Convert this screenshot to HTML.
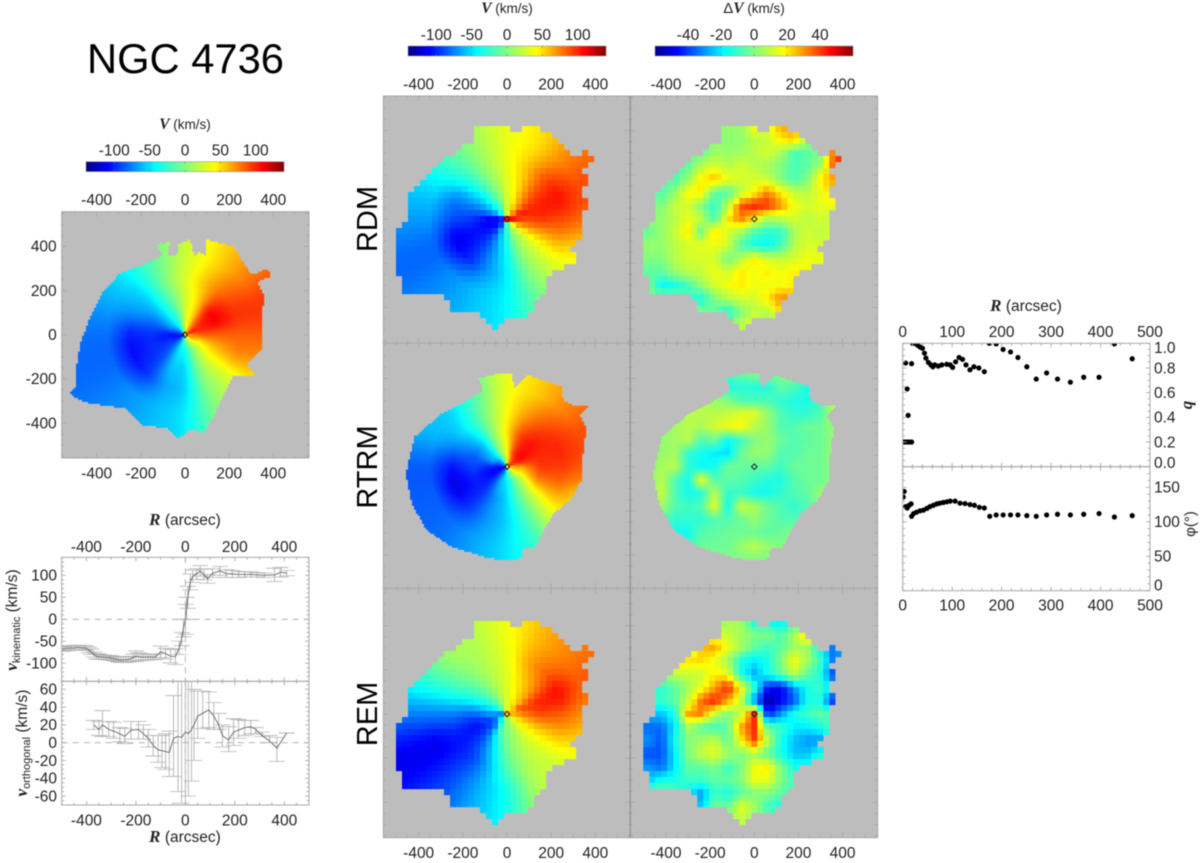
<!DOCTYPE html>
<html lang="en">
<head>
<meta charset="utf-8">
<title>NGC 4736 kinematic maps</title>
<style>
html,body{margin:0;padding:0;background:#fff;width:1200px;height:863px;overflow:hidden}
svg{display:block;filter:blur(0.4px)}
text{font-family:"Liberation Sans",sans-serif;fill:#222}
.s{font-family:"Liberation Serif",serif;font-weight:bold;font-style:italic}
</style>
</head>
<body>
<svg id="fig" xmlns="http://www.w3.org/2000/svg" width="1200" height="863" viewBox="0 0 1200 863">
<defs>
<clipPath id="clip-vk"><rect x="61.7" y="557.3" width="247.3" height="124"/></clipPath>
<clipPath id="clip-vo"><rect x="61.7" y="681.3" width="247.3" height="123.7"/></clipPath>
<clipPath id="clip-q"><rect x="902.7" y="343.3" width="247.3" height="123.4"/></clipPath>
<clipPath id="clip-phi"><rect x="902.7" y="466.7" width="247.3" height="124"/></clipPath>
</defs>
<text x="185.5" y="73" font-size="41.7" text-anchor="middle" style="fill:#000">NGC 4736</text>
<text x="185" y="129" text-anchor="middle" font-size="13.5"><tspan class="s" font-size="15.5">V</tspan> (km/s)</text>
<text x="507" y="13" text-anchor="middle" font-size="13.5"><tspan class="s" font-size="15.5">V</tspan> (km/s)</text>
<text x="754" y="13" text-anchor="middle" font-size="13.5"><tspan font-size="15">Δ</tspan><tspan class="s" font-size="15.5">V</tspan> (km/s)</text>
<text transform="translate(377,219) rotate(-90)" text-anchor="middle" font-size="29" style="fill:#000">RDM</text>
<text transform="translate(377,467) rotate(-90)" text-anchor="middle" font-size="29" style="fill:#000">RTRM</text>
<text transform="translate(377,714) rotate(-90)" text-anchor="middle" font-size="29" style="fill:#000">REM</text>
<text x="185" y="525" text-anchor="middle" font-size="15.5"><tspan class="s" font-size="17">R</tspan> (arcsec)</text>
<text x="185" y="842" text-anchor="middle" font-size="15.5"><tspan class="s" font-size="17">R</tspan> (arcsec)</text>
<text transform="translate(17,620) rotate(-90)" text-anchor="middle" font-size="15.5"><tspan class="s" font-size="17">v</tspan><tspan font-size="11" dy="3">kinematic</tspan><tspan dy="-3"> (km/s)</tspan></text>
<text transform="translate(27,743) rotate(-90)" text-anchor="middle" font-size="15.5"><tspan class="s" font-size="17">v</tspan><tspan font-size="11" dy="3">orthogonal</tspan><tspan dy="-3"> (km/s)</tspan></text>
<text x="1026" y="311" text-anchor="middle" font-size="15.5"><tspan class="s" font-size="17">R</tspan> (arcsec)</text>
<text transform="translate(1192,405) rotate(-90)" text-anchor="middle" font-size="17" class="s">q</text>
<text transform="translate(1195,524) rotate(-90)" text-anchor="middle" font-size="15">φ(°)</text>
</svg>
<script>
// ---- tick labels ----
const mapTicks = [-400, -200, 0, 200, 400];
const velBarTicks = [-100, -50, 0, 50, 100];
const resBarTicks = [-40, -20, 0, 20, 40];
const vkTicks = [-100, -50, 0, 50, 100];
const voTicks = [-60, -40, -20, 0, 20, 40, 60];
const rTicks = [0, 100, 200, 300, 400, 500];
const qTicks = [0.0, 0.2, 0.4, 0.6, 0.8, 1.0];
const phiTicks = [0, 50, 100, 150];

// ---- velocity maps: km/s, rows = azimuth every 22.5 deg from +x counter-clockwise,
//      columns = radii in polarRadii (arcsec) ----
const polarRadii = [25, 70, 150, 250, 350];
const vObserved = [
[70,85,85,85,85],[105,100,110,97,95],[80,90,105,85,75],[55,55,55,60,50],
[25,25,25,30,25],[-20,-25,-15,-5,-10],[-60,-50,-50,-50,-45],[-85,-75,-80,-72,-65],
[-105,-105,-97,-102,-80],[-105,-97,-98,-108,-82],[-80,-82,-90,-97,-72],[-50,-50,-58,-68,-60],
[-15,-35,-50,-52,-45],[20,-5,0,0,0],[40,25,35,30,30],[70,50,60,70,65]];
const vRDM = [
[105,90,95,90,80],[100,100,100,105,90],[70,75,85,90,75],[50,50,55,60,50],
[25,25,30,35,35],[-15,-10,0,8,10],[-40,-40,-40,-30,-20],[-70,-70,-72,-72,-50],
[-100,-112,-95,-90,-68],[-110,-108,-105,-112,-82],[-90,-95,-95,-100,-72],[-50,-60,-70,-72,-58],
[-20,-30,-38,-45,-42],[15,5,5,0,-5],[40,30,30,30,30],[80,70,65,65,50]];
const vRTRM = [
[60,70,95,95,85],[95,105,100,100,90],[90,108,105,90,75],[70,90,90,70,55],
[30,40,48,40,35],[-10,5,5,0,-10],[-60,-45,-50,-40,-50],[-90,-65,-80,-72,-62],
[-105,-100,-92,-105,-85],[-115,-110,-102,-115,-85],[-90,-95,-98,-98,-80],[-70,-60,-72,-72,-65],
[-30,-45,-50,-52,-48],[0,-15,-10,-15,-20],[25,15,30,35,40],[55,45,75,75,55]];
const vREM = [
[60,75,90,85,70],[80,85,98,106,85],[55,60,70,85,75],[45,45,50,65,60],
[30,30,32,35,38],[5,10,15,18,18],[-10,-15,-10,0,8],[-50,-45,-40,-30,-28],
[-70,-68,-82,-75,-75],[-50,-90,-105,-102,-112],[-30,-75,-88,-98,-95],[-10,-20,-48,-68,-65],
[5,0,-5,-18,-35],[10,15,15,15,15],[30,35,35,30,25],[50,55,60,60,50]];

// ---- residual maps: km/s, 17 x 17 samples every 60 arcsec, top row = +480, left col = -480 ----
const dvRDM = [
[0,0,0,0,0,0,0,0,0,0,0,0,0,0,0,0,0],
[0,0,0,0,0,0,3,3,18,13,28,28,15,0,0,0,0],
[0,0,0,0,0,0,2,2,8,10,20,25,5,-5,0,0,0],
[0,0,0,0,-5,5,3,5,8,12,6,-8,-5,0,35,50,0],
[0,0,-8,-5,8,12,8,12,8,5,0,-8,-5,5,38,45,0],
[0,-5,-8,3,20,26,16,12,12,10,0,-8,0,20,28,0,0],
[0,-8,3,18,20,-5,-8,8,18,32,20,10,8,15,25,0,0],
[0,0,10,12,0,-12,8,38,44,42,30,16,12,15,15,0,0],
[0,3,8,15,8,-8,20,32,20,5,8,12,8,12,8,0,0],
[-3,3,10,20,-3,24,12,5,-8,-12,-12,5,12,8,15,0,0],
[3,3,8,12,15,15,12,-8,-15,-18,-10,8,12,12,8,25,0],
[0,0,8,12,12,12,-3,8,20,12,10,12,16,16,12,0,0],
[-5,-5,3,8,10,16,12,20,16,20,16,20,16,8,0,0,0],
[0,-18,-15,-8,3,12,16,20,16,16,16,20,10,0,0,0,0],
[0,0,0,-10,-15,0,8,12,12,20,32,28,0,0,0,0,0],
[0,0,0,0,0,-5,-15,0,8,8,22,0,0,0,0,0,0],
[0,0,0,0,0,0,5,8,18,0,0,0,0,0,0,0,0]];
const dvRTRM = [
[0,0,0,0,0,0,0,0,0,0,0,0,0,0,0,0,0],
[0,0,0,0,0,0,-8,-5,0,0,0,0,0,0,0,0,0],
[0,0,0,0,0,0,-15,-12,-14,-14,-5,-8,-15,-25,0,0,0],
[0,0,0,0,8,3,0,-8,-8,-8,-12,-14,-15,-10,10,0,0],
[0,0,0,8,8,8,10,14,14,3,-7,-12,-12,-7,8,0,0],
[0,0,5,8,6,12,16,18,8,3,-7,-7,-3,-3,3,0,0],
[0,3,5,8,-7,-3,-18,-10,0,3,-3,-7,-5,-3,3,0,0],
[0,3,5,-12,-16,-20,-22,-3,3,3,-7,-7,-3,-3,3,0,0],
[0,6,8,-12,-18,-16,-3,-3,-5,-5,-10,-3,-3,-3,3,0,0],
[0,8,-7,-16,16,-7,-5,-7,-10,-14,-14,-7,-3,-3,3,0,0],
[0,10,-7,-16,-14,8,-12,-10,-16,-16,-12,-7,-5,3,0,0,0],
[0,5,-7,-10,-7,14,-16,10,6,-3,-7,-12,-7,3,0,0,0],
[0,-5,-12,-12,-12,-7,-7,-3,3,-3,-7,-7,-7,-3,0,0,0],
[0,-12,-16,-16,-7,-5,-3,-3,-3,-5,-3,0,0,0,0,0,0],
[0,0,-12,-10,-3,-3,-3,3,8,3,0,0,0,0,0,0,0],
[0,0,0,0,0,0,0,0,0,0,0,0,0,0,0,0,0],
[0,0,0,0,0,0,0,0,0,0,0,0,0,0,0,0,0]];
const dvREM = [
[0,0,0,0,0,0,0,0,0,0,0,0,0,0,0,0,0],
[0,0,0,0,0,0,5,5,-15,-18,-20,-12,-5,0,0,0,0],
[0,0,0,0,0,15,10,5,0,0,-8,5,25,0,0,0,0],
[0,0,0,0,25,28,15,5,-5,-10,-5,5,5,-18,-35,-40,0],
[0,0,28,22,22,15,5,-15,-20,-15,0,18,5,-10,-35,0,0],
[0,5,8,10,10,20,15,-15,-28,-15,-5,10,-5,-15,-40,0,0],
[-10,-12,-5,5,15,28,45,18,-10,-45,-48,-30,-15,-10,-25,0,0],
[-12,-10,-5,10,35,45,28,10,-32,-58,-48,-38,-15,-15,-45,0,0],
[-25,-25,-15,28,32,10,0,10,42,-45,-30,-15,-10,-5,-10,0,0],
[-35,-35,-20,5,-5,-10,-5,28,42,-5,-10,-20,-20,-15,-5,0,0],
[-30,-38,-15,0,5,10,-5,18,40,10,-15,-25,-30,-30,-10,-15,0],
[-38,-38,-20,0,10,15,5,0,5,-5,-15,-25,-25,-15,-10,0,0],
[-30,-35,-20,-5,-5,0,-10,0,15,20,0,-15,-15,-5,0,0,0],
[-25,-15,-15,-10,-10,-5,-5,0,15,15,0,-10,-15,0,0,0,0],
[0,0,-5,-18,-30,-10,-15,-5,0,0,-5,-10,0,0,0,0,0],
[0,0,0,0,-25,0,-5,15,5,-10,-15,0,0,0,0,0,0],
[0,0,0,0,0,5,5,10,0,0,0,0,0,0,0,0,0]];

// ---- map footprints, arcsec [x, y] ----
const outlineObserved = [[-128,406],[-68,421],[-83,353],[-38,361],[-26,414],[23,429],[41,353],[60,376],[91,361],[98,429],[159,414],[219,399],[257,338],[302,270],[378,300],[385,263],[325,240],[362,172],[347,97],[350,6],[347,-62],[279,-130],[317,-183],[264,-190],[219,-183],[166,-288],[128,-371],[83,-447],[30,-424],[-30,-470],[-83,-424],[-189,-409],[-264,-334],[-370,-319],[-461,-304],[-524,-266],[-491,-228],[-491,-145],[-476,-47],[-430,82],[-370,195],[-294,278],[-174,323],[-100,360]];
const outlineRDM = [[-152,396],[-122,418],[2,433],[36,365],[77,426],[119,433],[165,388],[202,396],[255,320],[300,282],[368,310],[394,275],[346,222],[371,146],[338,131],[358,79],[346,-12],[353,-80],[293,-133],[328,-186],[285,-208],[202,-239],[165,-337],[127,-374],[82,-457],[29,-442],[-62,-495],[-107,-442],[-183,-405],[-236,-427],[-288,-352],[-341,-334],[-417,-337],[-462,-344],[-512,-193],[-507,-57],[-462,-27],[-454,101],[-417,131],[-349,214],[-296,267],[-175,335],[-130,358]];
const outlineRTRM = [[-130,400],[-69,415],[21,426],[32,355],[59,378],[92,415],[248,362],[255,302],[300,279],[368,272],[331,234],[361,166],[346,91],[338,-60],[285,-151],[210,-211],[149,-317],[127,-370],[74,-370],[66,-415],[6,-423],[-77,-415],[-251,-362],[-364,-287],[-432,-166],[-458,-30],[-417,136],[-304,234],[-190,294],[-107,347]];

// ---- rotation curve profiles ----
const vkR = [-500,-490,-480,-470,-460,-450,-440,-430,-420,-410,-400,-390,-380,-370,-360,-350,-340,-330,-320,-310,-300,-290,-280,-270,-260,-250,-240,-230,-220,-210,-200,-190,-180,-170,-160,-150,-140,-130,-120,-100,-80,-60,-40,-25,-15,-8,0,5,10,20,30,45,60,75,90,110,140,165,190,215,240,265,290,320,360,385,410];
const vkV = [-68,-67,-66,-66,-65,-65,-64,-64,-65,-65,-66,-70,-74,-80,-84,-85,-86,-86,-87,-87,-88,-89,-90,-91,-92,-92,-92,-91,-90,-87,-84,-85,-86,-86,-86,-86,-86,-86,-85,-74,-78,-84,-85,-65,-45,-20,0,25,50,85,98,103,110,102,92,105,110,104,103,102,102,102,101,100,101,107,105];
const vkE = [5,5,5,5,5,5,5,5,5,5,5,6,6,6,6,6,5,5,5,5,5,5,5,6,6,6,6,6,6,8,12,9,8,7,7,6,6,6,6,13,12,15,18,15,15,20,34,25,25,18,14,12,12,12,10,10,10,9,8,7,6,6,5,5,15,11,6];
const voR = [-370,-350,-335,-310,-290,-265,-245,-220,-190,-170,-150,-130,-110,-95,-80,-65,-48,-30,-15,0,12,25,35,50,70,95,115,135,150,175,195,215,240,265,285,310,340,370,410];
const voV = [20,15,20,15,13,10,7,14,15,10,5,-3,-8,-9,-10,-11,5,7,6,12,10,15,20,30,33,37,30,20,8,3,12,14,17,18,15,8,2,-6,11];
const voHigh = [25,24,36,24,23,17,16,24,24,20,15,8,8,8,10,13,53,70,75,75,75,75,60,58,58,57,45,33,20,18,27,26,25,25,17,12,8,6,11];
const voLow = [15,8,7,7,5,1,-1,4,4,4,-5,-15,-22,-28,-30,-38,-38,-55,-68,-70,-60,-43,-20,5,16,17,15,15,-5,-10,-3,5,8,10,10,7,0,-21,11];

// ---- ellipse fit profiles ----
const qR = [3,8,13,18,11,9,6,18,20,25,30,35,40,44,47,52,57,61,65,72,79,89,96,101,107,114,121,128,136,144,154,165,175,189,203,218,233,251,270,291,313,339,366,397,428,464];
const qV = [0.2,0.2,0.2,0.2,0.416,0.63,0.84,0.835,1.0,1.0,0.985,0.97,0.96,0.92,0.88,0.845,0.825,0.81,0.825,0.815,0.825,0.83,0.825,0.805,0.85,0.885,0.87,0.825,0.785,0.81,0.8,0.77,1.0,0.995,0.95,0.93,0.885,0.81,0.71,0.76,0.71,0.685,0.725,0.725,0.995,0.875];
const phiR = [3,1,6,9,13,17,18,22,28,35,42,49,55,62,69,75,82,89,96,106,116,126,136,145,155,165,176,189,203,218,233,251,270,291,313,339,366,397,428,464];
const phiV = [144,136,122,120,124,126,108,112,114,116,117,119.5,122,124,126,127,128,129,130,130,127,126.5,125,124,121,120,108,110,110,110,110,109,108,110,111,110,111,112,107,109];

// ---- rendering ----
const svg = document.getElementById('fig');
const NS = 'http://www.w3.org/2000/svg';
const FRAME = '#a8a8a8';

function mk(tag, attrs, parent) {
  const el = document.createElementNS(NS, tag);
  for (const k in attrs) el.setAttribute(k, attrs[k]);
  (parent || svg).appendChild(el);
  return el;
}
function label(txt, x, y, anchor, name, size) {
  const el = mk('text', {x: x, y: y, 'text-anchor': anchor, 'font-size': size || 15.5});
  el.textContent = txt;
  
  
  return el;
}
const jetStops = [[0,0,0,128],[0.11,0,0,255],[0.35,0,255,255],[0.5,128,255,128],[0.65,255,255,0],[0.89,255,0,0],[1,128,0,0]];
function jet(t) {
  t = Math.max(0, Math.min(1, t));
  for (let i = 1; i < jetStops.length; i++) {
    if (t <= jetStops[i][0]) {
      const a = jetStops[i-1], b = jetStops[i], f = (t-a[0])/(b[0]-a[0]);
      return 'rgb(' + Math.round(a[1]+f*(b[1]-a[1])) + ',' + Math.round(a[2]+f*(b[2]-a[2])) + ',' + Math.round(a[3]+f*(b[3]-a[3])) + ')';
    }
  }
  return 'rgb(128,0,0)';
}
function inside(poly, x, y) {
  let c = false;
  for (let i = 0, j = poly.length-1; i < poly.length; j = i++) {
    const a = poly[i], b = poly[j];
    if ((a[1] > y) !== (b[1] > y) && x < (b[0]-a[0])*(y-a[1])/(b[1]-a[1])+a[0]) c = !c;
  }
  return c;
}
function cubic(p0, p1, p2, p3, t) {
  return 0.5*((2*p1)+(-p0+p2)*t+(2*p0-5*p1+4*p2-p3)*t*t+(-p0+3*p1-3*p2+p3)*t*t*t);
}
function polarSample(table) {
  return function(x, y) {
    const r = Math.hypot(x, y);
    let th = Math.atan2(y, x) * 180 / Math.PI; if (th < 0) th += 360;
    const n = table.length, u = th / (360/n), base = Math.floor(u), fa = u - base;
    let j0 = 0, j1 = 0, fr = 0;
    const R = polarRadii;
    if (r >= R[R.length-1]) { j0 = j1 = R.length-1; }
    else if (r > R[0]) {
      for (let j = 0; j < R.length-1; j++) if (r >= R[j] && r < R[j+1]) { j0 = j; j1 = j+1; fr = (r-R[j])/(R[j+1]-R[j]); }
    }
    const at = k => { const row = table[(base+k+n) % n]; return row[j0]*(1-fr)+row[j1]*fr; };
    return cubic(at(-1), at(0), at(1), at(2), fa);
  };
}
function gridSample(grid) {
  return function(x, y) {
    const u = Math.max(0, Math.min(15.999, (x+480)/60));
    const v = Math.max(0, Math.min(15.999, (480-y)/60));
    const i = Math.floor(u), j = Math.floor(v), fx = u-i, fy = v-j;
    return (grid[j][i]*(1-fx)+grid[j][i+1]*fx)*(1-fy)+(grid[j+1][i]*(1-fx)+grid[j+1][i+1]*fx)*fy;
  };
}
function ticks(box, sx, sy, xr, yr, xMaj, xMin, yMaj, yMin, g, majorLen) {
  const tick = (x1,y1,x2,y2,w) => mk('line',{x1:x1,y1:y1,x2:x2,y2:y2,stroke:FRAME,'stroke-width':w},g);
  const step = (lo,hi,st,f) => { for (let v = Math.ceil(lo/st)*st; v <= hi+1e-9; v += st) f(v); };
  const ml = majorLen || 5;
  step(xr[0],xr[1],xMin,v=>{ const isM = Math.abs(v/xMaj-Math.round(v/xMaj))<1e-6, l = isM?ml:2.5;
    tick(sx(v),box.y,sx(v),box.y+l,0.9); tick(sx(v),box.y+box.h,sx(v),box.y+box.h-l,0.9); });
  step(yr[0],yr[1],yMin,v=>{ const isM = Math.abs(v/yMaj-Math.round(v/yMaj))<1e-6, l = isM?ml:2.5;
    tick(box.x,sy(v),box.x+l,sy(v),0.9); tick(box.x+box.w,sy(v),box.x+box.w-l,sy(v),0.9); });
}
function linear(d0, d1, p0, p1) { return v => p0 + (v-d0)*(p1-p0)/(d1-d0); }

function drawMap(name, cx, cy, x0, y0, w, h, sample, poly, cell, range, showTop, showBottom, showLeft) {
  const g = mk('g', {});
  
  
  const bg = mk('rect', {x:x0, y:y0, width:w, height:h, fill:'#bdbdbd'}, g);
  
  
  const k = 0.2208;
  const N = Math.ceil(130/cell);
  for (let j = -N; j <= N; j++) {
    for (let i = -N; i <= N; i++) {
      const px = cx + i*cell, py = cy + j*cell, dx = (px-cx)/k, dy = (cy-py)/k;
      if (!inside(poly, dx, dy)) continue;
      const r = mk('rect', {x:(px-cell/2).toFixed(1), y:(py-cell/2).toFixed(1), width:cell+0.15, height:cell+0.15, fill:jet((sample(dx,dy)+range)/(2*range))}, g);
      
      
    }
  }
  const sx = v => cx + v*k, sy = v => cy - v*k;
  const box = {x:x0, y:y0, w:w, h:h};
  ticks(box, sx, sy, [(x0-cx)/k,(x0+w-cx)/k], [(cy-y0-h)/k,(cy-y0)/k], 200, 50, 200, 50, g);
  const fr = mk('rect', {x:x0, y:y0, width:w, height:h, fill:'none', stroke:FRAME, 'stroke-width':1}, g);
  
  
  const d = mk('polygon', {points:[cx-2.8,cy,cx,cy-2.8,cx+2.8,cy,cx,cy+2.8].join(','), fill:'none', stroke:'#111', 'stroke-width':0.9}, g);
  
  
  mapTicks.forEach(v => {
    if (showTop) label(String(v), sx(v), y0-6.5, 'middle', 'map-top-tick-label');
    if (showBottom) label(String(v), sx(v), y0+h+20.5, 'middle', 'map-bottom-tick-label');
    if (showLeft) label(String(v), x0-5, sy(v)+5.3, 'end', 'map-left-tick-label');
  });
}
function colorbar(name, x, y, w, h, range, tickVals) {
  const g = mk('g', {});
  
  
  for (let i = 0; i < w; i++) {
    const r = mk('rect', {x:x+i, y:y, width:1.2, height:h, fill:jet((i+0.5)/w)}, g);
    
    
  }
  mk('rect', {x:x, y:y, width:w, height:h, fill:'none', stroke:'#999', 'stroke-width':0.6}, g);
  const sx = linear(-range, range, x, x+w);
  tickVals.forEach(v => {
    mk('line', {x1:sx(v), x2:sx(v), y1:y, y2:y+2, stroke:'#777', 'stroke-width':0.6}, g);
    mk('line', {x1:sx(v), x2:sx(v), y1:y+h, y2:y+h-2, stroke:'#777', 'stroke-width':0.6}, g);
    label(String(v), sx(v), y-6, 'middle', 'colorbar-tick-label');
  });
}

// maps
drawMap('observed-velocity-map', 185, 334.7, 61.7, 211.7, 247.3, 246.3, polarSample(vObserved), outlineObserved, 2, 140, true, true, true);
drawMap('rdm-velocity-map', 507, 219, 383.3, 96, 247, 247, polarSample(vRDM), outlineRDM, 6, 140, true, false, false);
drawMap('rdm-residual-map', 754.3, 219, 630.3, 96, 247.4, 247, gridSample(dvRDM), outlineRDM, 6, 60, true, false, false);
drawMap('rtrm-velocity-map', 507, 466.7, 383.3, 343, 247, 245.3, polarSample(vRTRM), outlineRTRM, 2, 140, false, false, false);
drawMap('rtrm-residual-map', 754.3, 466.7, 630.3, 343, 247.4, 245.3, gridSample(dvRTRM), outlineRTRM, 2, 60, false, false, false);
drawMap('rem-velocity-map', 507, 714, 383.3, 588.3, 247, 249.4, polarSample(vREM), outlineRDM, 6, 140, false, true, false);
drawMap('rem-residual-map', 754.3, 714, 630.3, 588.3, 247.4, 249.4, gridSample(dvREM), outlineRDM, 6, 60, false, true, false);
const divider = mk('line', {x1:630.3, x2:630.3, y1:96, y2:837.7, stroke:'#8a8a8a', 'stroke-width':1});



// colorbars
colorbar('left-velocity-colorbar', 86, 161.7, 198, 10, 140, velBarTicks);
colorbar('rdm-velocity-colorbar', 408, 46, 198, 10, 140, velBarTicks);
colorbar('residual-colorbar', 655, 46, 198, 10, 60, resBarTicks);

// profile plots
function errorPanel(name, box, yr, clip, Rs, Vs, Lows, Highs, yMaj, yMin) {
  const g = mk('g', {});
  
  
  const sx = linear(-500, 500, box.x, box.x+box.w), sy = linear(yr[0], yr[1], box.y+box.h, box.y);
  const marks = mk('g', {'clip-path':'url(#'+clip+')'}, g);
  Rs.forEach((r,i) => {
    const x = sx(r), a = sy(Lows[i]), b = sy(Highs[i]);
    const bar = mk('line', {x1:x, x2:x, y1:a, y2:b, stroke:'#a8a8a8', 'stroke-width':0.8}, marks);
    
    
    [a,b].forEach(y => {
      const cap = mk('line', {x1:x-8, x2:x+8, y1:y, y2:y, stroke:'#b4b4b4', 'stroke-width':0.8}, marks);
      
      
    });
  });
  const line = mk('polyline', {points:Rs.map((r,i)=>sx(r).toFixed(1)+','+sy(Vs[i]).toFixed(1)).join(' '), fill:'none', stroke:'#666', 'stroke-width':0.9}, marks);
  
  
  const zero = mk('line', {x1:box.x, x2:box.x+box.w, y1:sy(0), y2:sy(0), stroke:'#a5a5a5', 'stroke-width':0.8, 'stroke-dasharray':'6 5'}, g);
  
  
  const zv = mk('line', {x1:sx(0), x2:sx(0), y1:box.y, y2:box.y+box.h, stroke:'#a5a5a5', 'stroke-width':0.8, 'stroke-dasharray':'6 5'}, g);
  
  
  ticks(box, sx, sy, [-500,500], yr, 200, 50, yMaj, yMin, g, 4);
  const fr = mk('rect', {x:box.x, y:box.y, width:box.w, height:box.h, fill:'none', stroke:FRAME, 'stroke-width':1}, g);
  
  
  return {sx:sx, sy:sy};
}
const pk = errorPanel('v-kinematic-panel', {x:61.7,y:557.3,w:247.3,h:124}, [-141,141], 'clip-vk', vkR, vkV, vkV.map((v,i)=>v-vkE[i]), vkV.map((v,i)=>v+vkE[i]), 50, 10);
const po = errorPanel('v-orthogonal-panel', {x:61.7,y:681.3,w:247.3,h:123.7}, [-70,69], 'clip-vo', voR, voV, voLow, voHigh, 20, 5);
mapTicks.forEach(v => {
  label(String(v), pk.sx(v), 552, 'middle', 'profile-top-tick-label');
  label(String(v), po.sx(v), 825.5, 'middle', 'profile-bottom-tick-label');
});
vkTicks.forEach(v => label(String(v), 57, pk.sy(v)+5.3, 'end', 'v-kinematic-tick-label', 15.5));
voTicks.forEach(v => label(String(v), 57, po.sy(v)+5.3, 'end', 'v-orthogonal-tick-label', 15.5));

// ellipse panels
function dotPanel(name, box, yr, clip, Rs, Vs, yMaj, yMin) {
  const g = mk('g', {});
  
  
  const sx = linear(0, 500, box.x, box.x+box.w), sy = linear(yr[0], yr[1], box.y+box.h, box.y);
  const marks = mk('g', {'clip-path':'url(#'+clip+')'}, g);
  Rs.forEach((r,i) => {
    const c = mk('circle', {cx:sx(r), cy:sy(Vs[i]), r:2.6, fill:'#000'}, marks);
    
    
  });
  ticks(box, sx, sy, [0,500], yr, 100, 20, yMaj, yMin, g, 4);
  const fr = mk('rect', {x:box.x, y:box.y, width:box.w, height:box.h, fill:'none', stroke:FRAME, 'stroke-width':1}, g);
  
  
  return {sx:sx, sy:sy};
}
const pq = dotPanel('axis-ratio-panel', {x:902.7,y:343.3,w:247.3,h:123.4}, [0,1], 'clip-q', qR, qV, 0.2, 0.05);
const pp = dotPanel('position-angle-panel', {x:902.7,y:466.7,w:247.3,h:124}, [0,180], 'clip-phi', phiR, phiV, 50, 10);
rTicks.forEach(v => {
  label(String(v), pq.sx(v), 337, 'middle', 'ellipse-top-tick-label');
  label(String(v), pp.sx(v), 610.5, 'middle', 'ellipse-bottom-tick-label');
});
qTicks.forEach(v => {
  const off = v === 0 ? -4 : (v === 1 ? 4.4 : 0);
  label(v.toFixed(1), 1154, pq.sy(v)+5.3+off, 'start', 'q-tick-label', 15.5);
});
phiTicks.forEach(v => {
  const off = v === 0 ? -5.7 : 0;
  label(String(v), 1154, pp.sy(v)+5.3+off, 'start', 'phi-tick-label', 15.5);
});
</script>
</body>
</html>
